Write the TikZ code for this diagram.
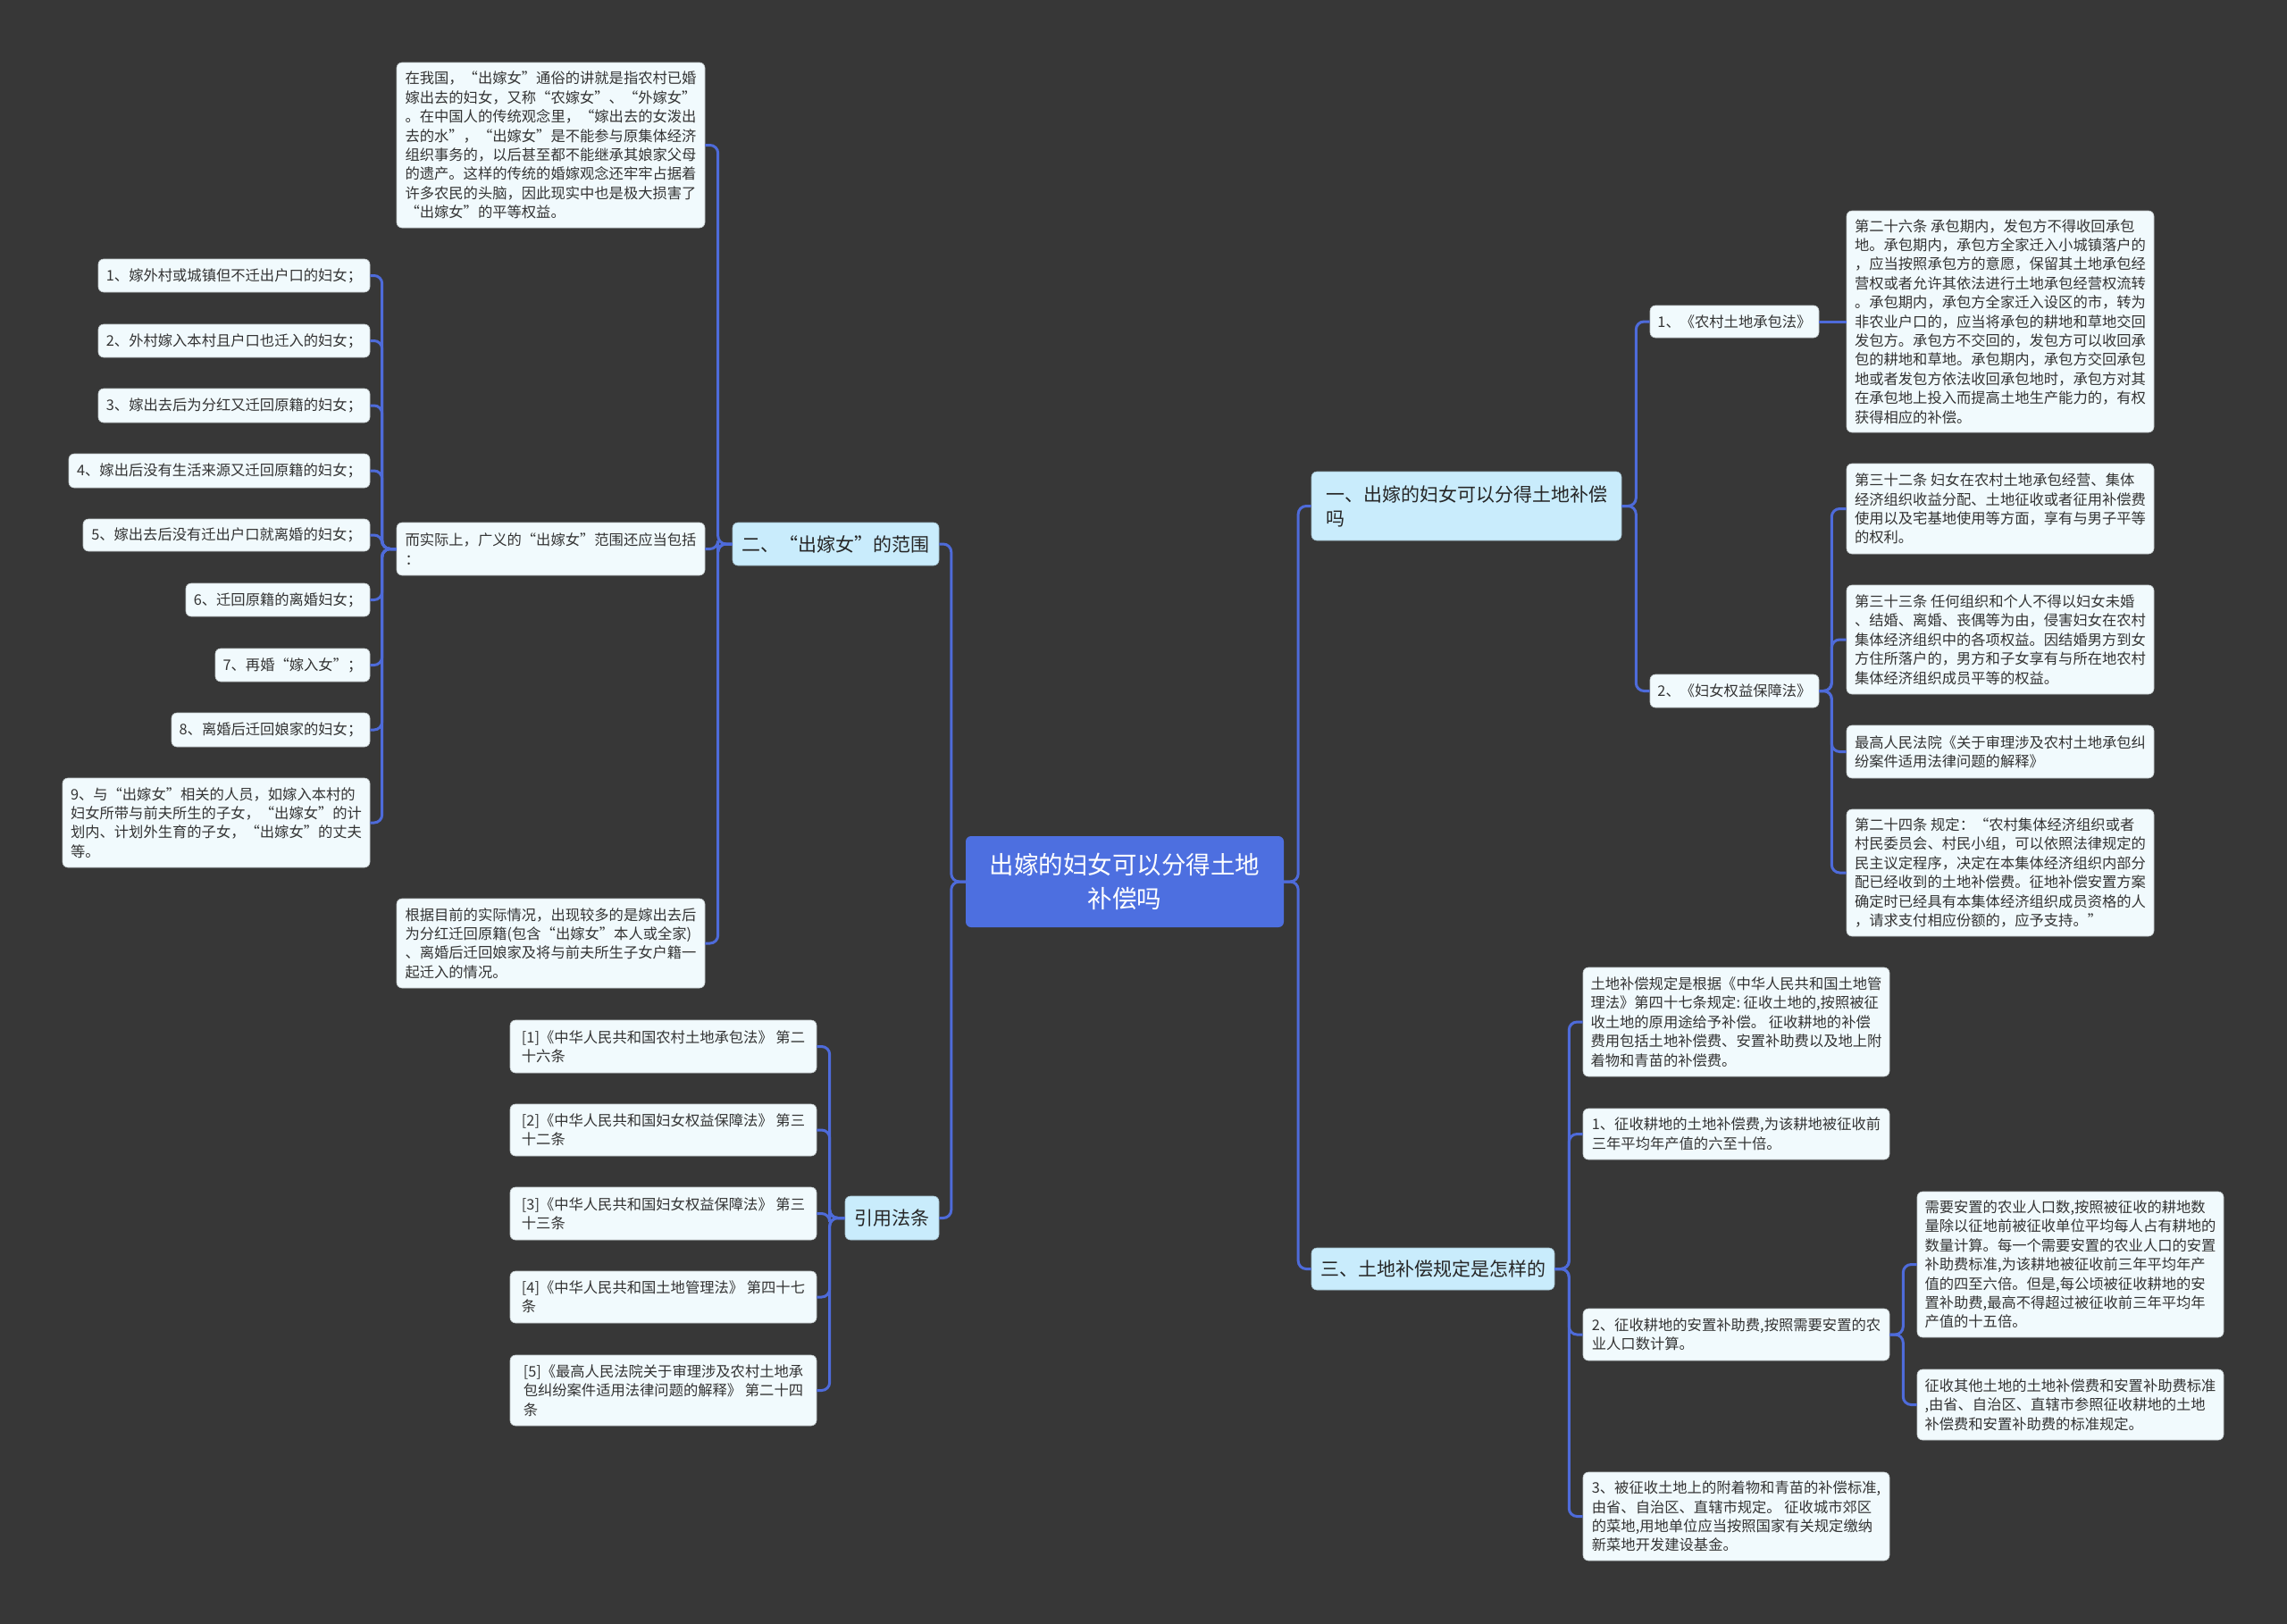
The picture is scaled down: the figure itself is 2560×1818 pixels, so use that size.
\documentclass[tikz,border=0pt]{standalone}
\usepackage{fontspec}
\setmainfont{Noto Sans CJK SC}
\definecolor{bgcol}{HTML}{373737}
\definecolor{conncol}{HTML}{4E6BDA}
\definecolor{rootfill}{HTML}{4D6FE0}
\definecolor{lvfill}{HTML}{C9ECFC}
\definecolor{leaffill}{HTML}{F1FAFD}
\definecolor{txtcol}{HTML}{333333}
\newcommand\leaffont{\fontsize{16.3}{21.4}\selectfont}
\newcommand\lvfont{\fontsize{21}{27}\selectfont}
\newcommand\rootfont{\fontsize{27.5}{38}\selectfont}
\newcommand\mybox[7]{\node[#1, minimum width=\fpeval{#5-#3}pt, minimum height=\fpeval{#6-#4}pt] (#2) at ({(#3+#5)/2},{(#4+#6)/2}) {#7};}
\tikzset{
  leaf/.style={fill=leaffill, draw=leaffill!80!black, line width=0.6pt, rounded corners=6pt, text=txtcol, font=\leaffont, inner xsep=8pt, inner ysep=0pt, align=left},
  lv/.style={fill=lvfill, draw=lvfill!80!black, line width=0.6pt, rounded corners=6pt, text=black!85, font=\lvfont, inner xsep=9pt, inner ysep=0pt, align=left},
  rootbox/.style={fill=rootfill, rounded corners=6pt, text=white, font=\rootfont, inner sep=0pt, align=center},
  conn/.style={draw=conncol, line width=3pt, rounded corners=9pt}
}
\begin{document}
\begin{tikzpicture}[x=1pt,y=-1pt]
\fill[bgcol] (0,0) rectangle (2560,1818);
\useasboundingbox (0,0) rectangle (2560,1818);

% root
\mybox{rootbox}{root}{1081}{936}{1437}{1038}{出嫁的妇女可以分得土地\\补偿吗}

% level 1
\mybox{lv}{er}{820}{585}{1051}{633}{二、“出嫁女”的范围}
\mybox{lv}{yinyong}{946}{1339}{1051}{1388}{引用法条}
\mybox{lv}{yi}{1468}{528}{1815}{605}{一、出嫁的妇女可以分得土地补偿\\吗}
\mybox{lv}{san}{1468}{1397}{1740}{1444}{三、土地补偿规定是怎样的}

% left branch
\mybox{leaf}{boxA}{444}{70}{789}{255}{在我国，“出嫁女”通俗的讲就是指农村已婚\\嫁出去的妇女，又称“农嫁女”、“外嫁女”\\。在中国人的传统观念里，“嫁出去的女泼出\\去的水”，“出嫁女”是不能参与原集体经济\\组织事务的，以后甚至都不能继承其娘家父母\\的遗产。这样的传统的婚嫁观念还牢牢占据着\\许多农民的头脑，因此现实中也是极大损害了\\“出嫁女”的平等权益。}
\mybox{leaf}{shiji}{444}{585}{789}{644}{而实际上，广义的“出嫁女”范围还应当包括\\：}
\mybox{leaf}{genju}{444}{1006}{789}{1106}{根据目前的实际情况，出现较多的是嫁出去后\\为分红迁回原籍(包含“出嫁女”本人或全家)\\、离婚后迁回娘家及将与前夫所生子女户籍一\\起迁入的情况。}

\mybox{leaf}{i1}{110}{290}{414}{327}{1、嫁外村或城镇但不迁出户口的妇女；}
\mybox{leaf}{i2}{110}{363}{414}{400}{2、外村嫁入本村且户口也迁入的妇女；}
\mybox{leaf}{i3}{110}{435}{414}{473}{3、嫁出去后为分红又迁回原籍的妇女；}
\mybox{leaf}{i4}{77}{508}{414}{546}{4、嫁出后没有生活来源又迁回原籍的妇女；}
\mybox{leaf}{i5}{93}{581}{414}{617}{5、嫁出去后没有迁出户口就离婚的妇女；}
\mybox{leaf}{i6}{208}{653}{414}{690}{6、迁回原籍的离婚妇女；}
\mybox{leaf}{i7}{241}{726}{414}{763}{7、再婚“嫁入女”；}
\mybox{leaf}{i8}{192}{798}{414}{836}{8、离婚后迁回娘家的妇女；}
\mybox{leaf}{i9}{70}{871}{414}{971}{9、与“出嫁女”相关的人员，如嫁入本村的\\妇女所带与前夫所生的子女，“出嫁女”的计\\划内、计划外生育的子女，“出嫁女”的丈夫\\等。}

% references
\mybox{leaf}{r1}{571}{1142}{914}{1201}{[1]《中华人民共和国农村土地承包法》~第二\\十六条}
\mybox{leaf}{r2}{571}{1236}{914}{1294}{[2]《中华人民共和国妇女权益保障法》~第三\\十二条}
\mybox{leaf}{r3}{571}{1329}{914}{1388}{[3]《中华人民共和国妇女权益保障法》~第三\\十三条}
\mybox{leaf}{r4}{571}{1423}{914}{1481}{[4]《中华人民共和国土地管理法》~第四十七\\条}
\mybox{leaf}{r5}{571}{1517}{914}{1596}{[5]《最高人民法院关于审理涉及农村土地承\\包纠纷案件适用法律问题的解释》~第二十四\\条}

% right branch one
\mybox{leaf}{law1}{1847}{342}{2036}{378}{1、《农村土地承包法》}
\mybox{leaf}{law2}{1847}{755}{2036}{792}{2、《妇女权益保障法》}
\mybox{leaf}{art26}{2067}{236}{2411}{484}{第二十六条~承包期内，发包方不得收回承包\\地。承包期内，承包方全家迁入小城镇落户的\\，应当按照承包方的意愿，保留其土地承包经\\营权或者允许其依法进行土地承包经营权流转\\。承包期内，承包方全家迁入设区的市，转为\\非农业户口的，应当将承包的耕地和草地交回\\发包方。承包方不交回的，发包方可以收回承\\包的耕地和草地。承包期内，承包方交回承包\\地或者发包方依法收回承包地时，承包方对其\\在承包地上投入而提高土地生产能力的，有权\\获得相应的补偿。}
\mybox{leaf}{art32}{2067}{519}{2411}{620}{第三十二条~妇女在农村土地承包经营、集体\\经济组织收益分配、土地征收或者征用补偿费\\使用以及宅基地使用等方面，享有与男子平等\\的权利。}
\mybox{leaf}{art33}{2067}{655}{2411}{777}{第三十三条~任何组织和个人不得以妇女未婚\\、结婚、离婚、丧偶等为由，侵害妇女在农村\\集体经济组织中的各项权益。因结婚男方到女\\方住所落户的，男方和子女享有与所在地农村\\集体经济组织成员平等的权益。}
\mybox{leaf}{supc}{2067}{812}{2411}{871}{最高人民法院《关于审理涉及农村土地承包纠\\纷案件适用法律问题的解释》}
\mybox{leaf}{art24}{2067}{906}{2411}{1048}{第二十四条~规定：“农村集体经济组织或者\\村民委员会、村民小组，可以依照法律规定的\\民主议定程序，决定在本集体经济组织内部分\\配已经收到的土地补偿费。征地补偿安置方案\\确定时已经具有本集体经济组织成员资格的人\\，请求支付相应份额的，应予支持。”}

% right branch three
\mybox{leaf}{s0}{1772}{1083}{2115}{1205}{土地补偿规定是根据《中华人民共和国土地管\\理法》第四十七条规定:~征收土地的,按照被征\\收土地的原用途给予补偿。~征收耕地的补偿\\费用包括土地补偿费、安置补助费以及地上附\\着物和青苗的补偿费。}
\mybox{leaf}{s1}{1772}{1241}{2115}{1298}{1、征收耕地的土地补偿费,为该耕地被征收前\\三年平均年产值的六至十倍。}
\mybox{leaf}{s2}{1772}{1465}{2115}{1523}{2、征收耕地的安置补助费,按照需要安置的农\\业人口数计算。}
\mybox{leaf}{s21}{2146}{1334}{2489}{1497}{需要安置的农业人口数,按照被征收的耕地数\\量除以征地前被征收单位平均每人占有耕地的\\数量计算。每一个需要安置的农业人口的安置\\补助费标准,为该耕地被征收前三年平均年产\\值的四至六倍。但是,每公顷被征收耕地的安\\置补助费,最高不得超过被征收前三年平均年\\产值的十五倍。}
\mybox{leaf}{s22}{2146}{1533}{2489}{1612}{征收其他土地的土地补偿费和安置补助费标准\\,由省、自治区、直辖市参照征收耕地的土地\\补偿费和安置补助费的标准规定。}
\mybox{leaf}{s3}{1772}{1648}{2115}{1747}{3、被征收土地上的附着物和青苗的补偿标准,\\由省、自治区、直辖市规定。~征收城市郊区\\的菜地,用地单位应当按照国家有关规定缴纳\\新菜地开发建设基金。}

% connectors
\foreach \c in {er,yinyong} \draw[conn] (root.west) -- ++(-16,0) |- (\c.east);
\foreach \c in {yi,san} \draw[conn] (root.east) -- ++(16,0) |- (\c.west);
\foreach \c in {boxA,shiji,genju} \draw[conn] (er.west) -- ++(-16,0) |- (\c.east);
\foreach \c in {i1,i2,i3,i4,i5,i6,i7,i8,i9} \draw[conn] (shiji.west) -- ++(-16,0) |- (\c.east);
\foreach \c in {r1,r2,r3,r4,r5} \draw[conn] (yinyong.west) -- ++(-17,0) |- (\c.east);
\foreach \c in {law1,law2} \draw[conn] (yi.east) -- ++(16,0) |- (\c.west);
\draw[conn] (law1.east) -- (art26.west);
\foreach \c in {art32,art33,supc,art24} \draw[conn] (law2.east) -- ++(14,0) |- (\c.west);
\foreach \c in {s0,s1,s2,s3} \draw[conn] (san.east) -- ++(16,0) |- (\c.west);
\foreach \c in {s21,s22} \draw[conn] (s2.east) -- ++(15,0) |- (\c.west);
\end{tikzpicture}
\end{document}
